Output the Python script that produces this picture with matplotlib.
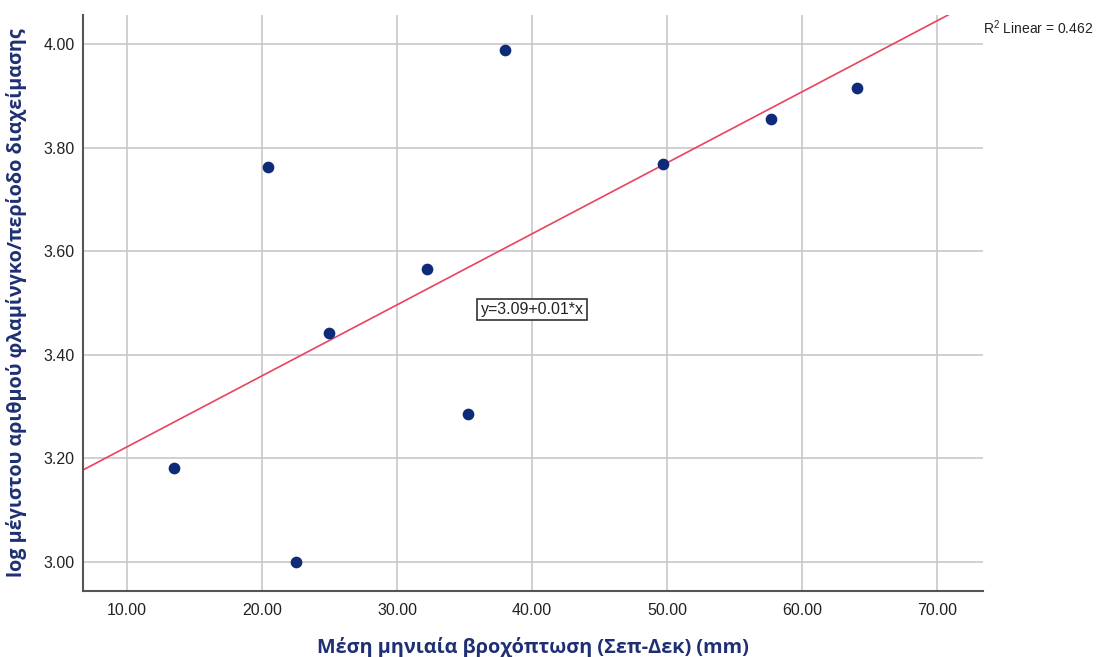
import numpy as np
import matplotlib.pyplot as plt

# mean monthly rainfall (Sep-Dec) vs log max flamingo count
rain = [13.45, 20.45, 22.50, 24.95, 32.20, 35.25, 38.00, 49.70, 57.70, 64.05]
log_count = [3.181, 3.762, 3.000, 3.443, 3.566, 3.286, 3.988, 3.768, 3.855, 3.915]
xticks = [10, 20, 30, 40, 50, 60, 70]
yticks = [3.0, 3.2, 3.4, 3.6, 3.8, 4.0]

navy = '#0f2a78'
label_col = '#1e2f73'

fig = plt.figure(figsize=(10.98, 6.57), dpi=100)
ax = fig.add_axes([0.0756, 0.1005, 0.8197, 0.8765])

ax.set_xlim(6.74, 73.41)
ax.set_ylim(2.944, 4.056)

ax.grid(True, color='#c8c8c8', linewidth=1.2)
ax.set_axisbelow(True)

ax.scatter(rain, log_count, s=55, color=navy, zorder=3)

slope, icpt = np.polyfit(rain, log_count, 1)
xs = np.array(ax.get_xlim())
ax.plot(xs, icpt + slope * xs, color='#e8435f', linewidth=1.2, zorder=2)

ax.set_xticks(xticks)
ax.set_xticklabels(['%.2f' % v for v in xticks])
ax.set_yticks(yticks)
ax.set_yticklabels(['%.2f' % v for v in yticks])
ax.tick_params(length=0, labelsize=11.5, labelcolor='#222222')
ax.tick_params(axis='x', pad=9)
ax.tick_params(axis='y', pad=6)
for lab in ax.get_xticklabels() + ax.get_yticklabels():
    lab.set_family('Liberation Sans')

for side in ['top', 'right']:
    ax.spines[side].set_visible(False)
for side in ['left', 'bottom']:
    ax.spines[side].set_color('#555555')
    ax.spines[side].set_linewidth(1.5)

ax.set_xlabel('Μέση μηνιαία βροχόπτωση (Σεπ-Δεκ) (mm)', fontsize=14.3,
              fontweight='bold', color=label_col, family='Open Sans', labelpad=13)
ax.set_ylabel('log μέγιστου αριθμού φλαμίνγκο/περίοδο διαχείμασης', fontsize=14.2,
              fontweight='bold', color=label_col, family='Open Sans', labelpad=12)

ax.text(40.0, 3.487, 'y=3.09+0.01*x', fontsize=11.5, family='Liberation Sans',
        ha='center', va='center', color='#222222',
        bbox=dict(boxstyle='square,pad=0.2', facecolor='white', edgecolor='#333333', linewidth=1.2))

fig.text(0.895, 0.958, '$\\mathregular{R^2}$ Linear = 0.462', fontsize=10,
         family='Liberation Sans', color='#222222', ha='left', va='center')

fig.savefig('out.png', dpi=100)
